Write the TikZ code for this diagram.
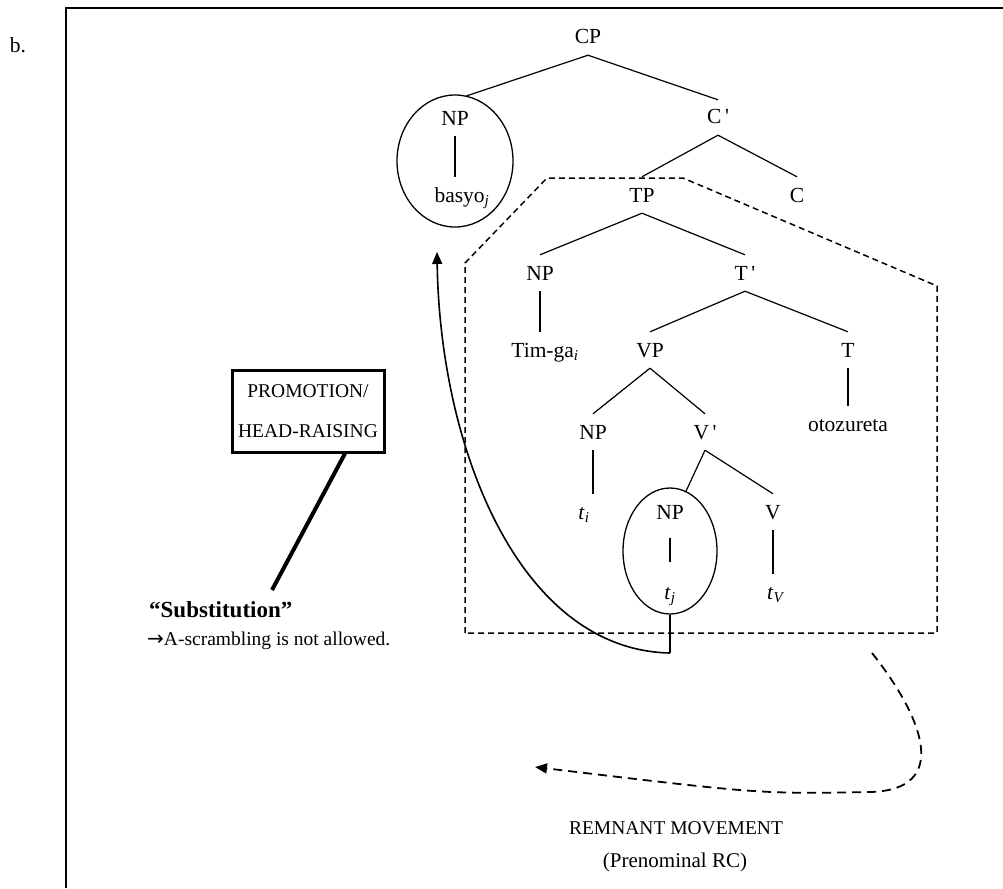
\documentclass[tikz,border=0pt]{standalone}
\usepackage{fontspec}
\setmainfont{Liberation Serif}
\newfontfamily\rawserif{Liberation Serif}[Ligatures=TeXOff]
\newfontfamily\arrowfont{DejaVu Sans}
\usetikzlibrary{arrows.meta,shapes.geometric,calc}
\newcommand{\lowsub}[1]{\textsubscript{\textit{#1}}}
\newcommand{\trace}[1]{\textit{t}\lowsub{#1}}
\newcommand{\primed}[1]{#1\,{\rawserif '}}
\begin{document}
\begin{tikzpicture}[x=1pt,y=-1pt,
  cat/.style={font=\fontsize{21.5}{26}\selectfont, inner xsep=1pt, inner ysep=11pt,
              text height=14pt, text depth=0pt, anchor=center},
  branch/.style={line width=1.2pt},
  ring/.style={draw, ellipse, line width=1.3pt, inner sep=0pt},
  remnant/.style={dash pattern=on 6pt off 4pt, line width=1.5pt},
  plain/.style={font=\fontsize{21.5}{26}\selectfont, inner sep=0pt},
  caption/.style={font=\fontsize{19.5}{24}\selectfont, inner sep=0pt}]
\useasboundingbox (0,0) rectangle (1003,888);

% frame and example label
\draw[line width=2.2pt] (66,888) -- (66,8) -- (1003,8);
\node[plain] (ex) at (18,45) {b.};

% tree nodes
\node[cat] (cp)    at (588,37)  {CP};
\node[cat] (np1)   at (455,118) {NP};
\node[cat] (basyo) at (462,195) {basyo\lowsub{j}};
\node[cat] (cbar)  at (718,117) {\primed{C}};
\node[cat] (tp)    at (642,195) {TP};
\node[cat] (c)     at (797,195) {C};
\node[cat] (np2)   at (540,273) {NP};
\node[cat] (timga) at (545,350) {Tim-ga\lowsub{i}};
\node[cat] (tbar)  at (745,273) {\primed{T}};
\node[cat] (vp)    at (650,350) {VP};
\node[cat] (t)     at (848,350) {T};
\node[cat] (verb)  at (848,424) {otozureta};
\node[cat] (np3)   at (593,432) {NP};
\node[cat] (vbar)  at (705,432) {\primed{V}};
\node[cat] (ti)    at (584,512) {\trace{i}};
\node[cat] (np4)   at (670,512) {NP};
\node[cat] (v)     at (773,512) {V};
\node[cat] (tj)    at (670,592) {\trace{j}};
\node[cat] (tv)    at (776,592) {\trace{V}};

% circled constituents
\node[ring, minimum width=116pt, minimum height=132pt] (ring1) at (455,161) {};
\node[ring, minimum width=94pt, minimum height=126pt] (ring2) at (670,551) {};

% branches
\draw[branch, shorten >=12pt] (cp.south) -- (np1.north);
\draw[branch] (cp.south) -- (cbar.south |- np1.north);
\draw[branch] (np1.south) -- (np1.south |- basyo.north);
\draw[branch] (cbar.south) -- (tp.north);
\draw[branch] (cbar.south) -- (c.north);
\draw[branch] (tp.south) -- (np2.north);
\draw[branch] (tp.south) -- (tbar.north);
\draw[branch] (np2.south) -- (np2.south |- timga.north);
\draw[branch] (tbar.south) -- (vp.north);
\draw[branch] (tbar.south) -- (t.north);
\draw[branch] (t.south) -- (verb.north);
\draw[branch] (vp.south) -- (np3.north);
\draw[branch] (vp.south) -- (vbar.north);
\draw[branch] (np3.south) -- (np3.south |- ti.north);
\draw[branch] (vbar.south) -- (ring2.75);
\draw[branch] (vbar.south) -- (v.north);
\draw[branch, shorten <=8pt, shorten >=12pt] (np4.south) -- (np4.south |- tj.north);
\draw[branch] (v.south) -- (v.south |- tv.north);

% remnant (dashed region)
\draw[remnant] (465,633) -- (465,263) -- (547,178) -- (683,178) -- (937,286) -- (937,633) -- cycle;

% head raising movement
\coordinate (foot) at (670,653);
\coordinate (landing) at (437,252);
\draw[line width=1.6pt] (ring2.south) -- (foot);
\draw[line width=1.6pt, -{Triangle[length=12pt,width=10pt]}]
  (foot) .. controls (520,650) and (440,450) .. (landing);

% promotion label
\node[draw, line width=3pt, minimum width=152pt, minimum height=82pt, align=center,
      font=\fontsize{19.5}{40}\selectfont, inner sep=2pt] (promo) at (308,411)
  {PROMOTION/\\HEAD-RAISING};
\coordinate (subtop) at (272,590);
\draw[line width=4pt] ([xshift=37pt]promo.south) -- (subtop);
\node[font=\fontsize{23}{26}\selectfont\bfseries, inner sep=0pt, anchor=west] (subst) at (149,610) {“Substitution”};
\node[caption, anchor=west] (scr) at (147,641)
  {{\arrowfont\fontsize{20}{22}\selectfont →}A-scrambling is not allowed.};

% remnant movement arrow
\coordinate (rstart) at (872,653);
\coordinate (rbend) at (870,792);
\coordinate (rtip) at (535,767);
\draw[line width=1.8pt, dash pattern=on 9pt off 6pt, -{Triangle[length=12pt,width=10pt]}]
  (rstart) .. controls (925,720) and (950,790) .. (rbend)
  .. controls (760,794) .. (rtip);
\node[caption] (rm1) at (676,828) {REMNANT MOVEMENT};
\node[font=\fontsize{21}{24}\selectfont, inner sep=0pt] (rm2) at (675,862) {(Prenominal RC)};
\end{tikzpicture}
\end{document}
